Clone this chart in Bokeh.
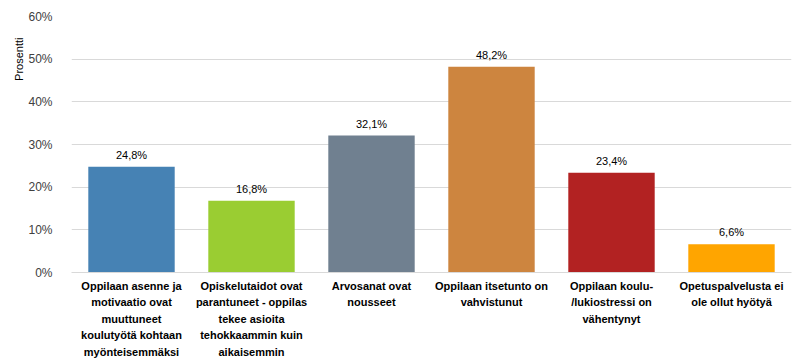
from bokeh.plotting import figure
from bokeh.models import ColumnDataSource, FixedTicker, PrintfTickFormatter, Title
from bokeh.core.properties import value
from bokeh.embed import file_html
from bokeh.resources import INLINE

categories = [
    "Oppilaan asenne ja\nmotivaatio ovat\nmuuttuneet\nkoulutyötä kohtaan\nmyönteisemmäksi",
    "Opiskelutaidot ovat\nparantuneet - oppilas\ntekee asioita\ntehokkaammin kuin\naikaisemmin",
    "Arvosanat ovat\nnousseet",
    "Oppilaan itsetunto on\nvahvistunut",
    "Oppilaan koulu-\n/lukiostressi on\nvähentynyt",
    "Opetuspalvelusta ei\nole ollut hyötyä",
]
values = [24.8, 16.8, 32.1, 48.2, 23.4, 6.6]
colors = ["#4682B4", "#9ACD32", "#708090", "#CD853F", "#B22222", "#FFA500"]
y_ticks = [0, 10, 20, 30, 40, 50, 60]

labels = [f"{v:.1f}".replace(".", ",") + "%" for v in values]
src = ColumnDataSource(dict(cat=categories, val=values, col=colors, lab=labels))

p = figure(x_range=categories, y_range=(0, 60), width=803, height=363,
           output_backend="svg", toolbar_location=None,
           min_border_left=71, min_border_right=12, min_border_top=16, min_border_bottom=91)
p.outline_line_color = None
p.background_fill_color = "white"
p.border_fill_color = "white"

p.vbar(x="cat", top="val", width=0.72, fill_color="col", line_color=None, source=src)
p.text(x="cat", y="val", text="lab", source=src, text_align="center",
       text_baseline="bottom", y_offset=-6, text_font_size="11px",
       text_color="#000000", text_font=value("Liberation Sans"))

p.yaxis.ticker = FixedTicker(ticks=y_ticks)
p.yaxis.formatter = PrintfTickFormatter(format="%d%%")
p.yaxis.axis_line_color = None
p.yaxis.major_tick_line_color = None
p.yaxis.minor_tick_line_color = None
p.yaxis.major_label_text_font_size = "12px"
p.yaxis.major_label_text_color = "#404040"
p.yaxis.major_label_text_font = "Liberation Sans"
p.yaxis.major_label_standoff = 13

p.xaxis.axis_line_color = "#d9d9d9"
p.xaxis.major_tick_line_color = None
p.xaxis.minor_tick_line_color = None
p.xaxis.major_label_text_font_size = "11px"
p.xaxis.major_label_text_font_style = "bold"
p.xaxis.major_label_text_color = "#000000"
p.xaxis.major_label_text_font = "Liberation Sans"
p.xaxis.major_label_text_line_height = 1.38
p.xaxis.major_label_standoff = 1
p.xaxis.major_label_orientation = "horizontal"

p.xgrid.grid_line_color = None
p.ygrid.grid_line_color = "#d9d9d9"
p.ygrid.ticker = FixedTicker(ticks=y_ticks)

t = Title(text="Prosentti", align="right", text_font_size="11px",
          text_font_style="normal", text_color="#000000", text_font="Liberation Sans",
          offset=21, standoff=1)
p.add_layout(t, "left")

open("out.html", "w").write(file_html(p, INLINE))
